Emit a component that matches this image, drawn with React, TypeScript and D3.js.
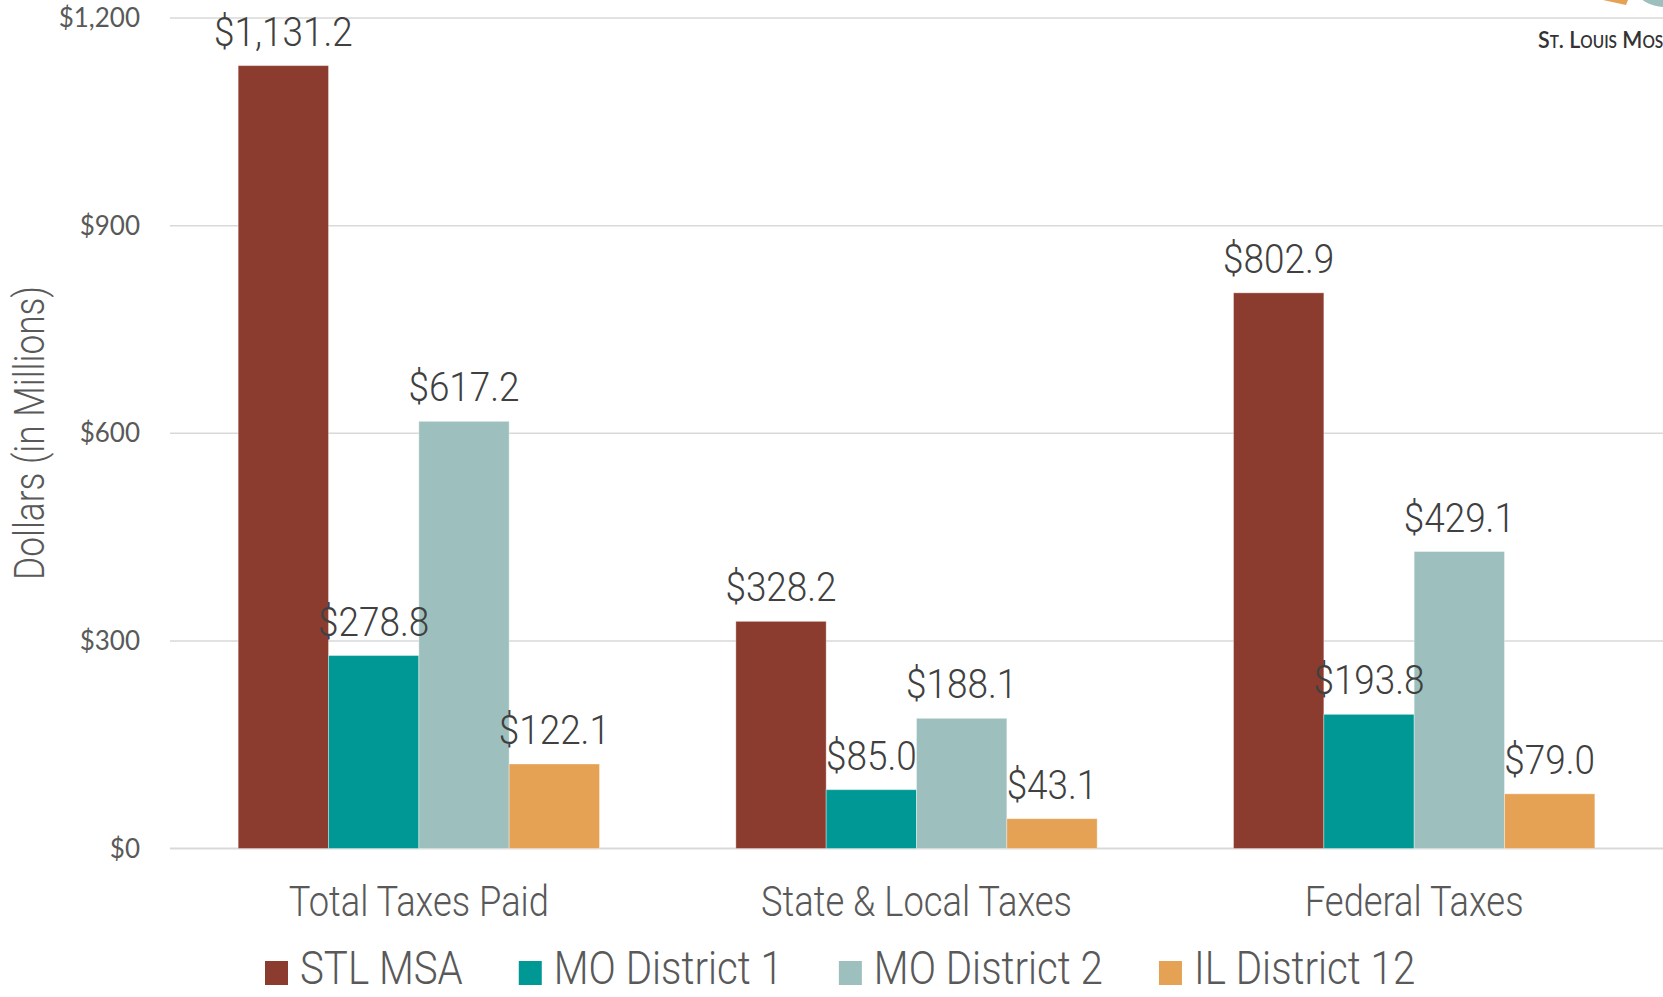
import React, { useRef, useEffect } from 'react';
import * as d3 from 'd3';

const categories = ['Total Taxes Paid', 'State & Local Taxes', 'Federal Taxes'];
const seriesNames = ['STL MSA', 'MO District 1', 'MO District 2', 'IL District 12'];
const stlMsa = [1131.2, 328.2, 802.9];
const moDistrict1 = [278.8, 85.0, 193.8];
const moDistrict2 = [617.2, 188.1, 429.1];
const ilDistrict12 = [122.1, 43.1, 79.0];
const yTicks = [0, 300, 600, 900, 1200];
const colors = ['#8B3C2E', '#009894', '#9DC0BE', '#E5A154'];

const W = 1663;
const H = 997;
// no condensed face installed, so squeeze Roboto horizontally
const narrow = 'Roboto, "Liberation Sans", sans-serif';
const SQ = 0.84;

const App = () => {
  const ref = useRef<SVGSVGElement>(null);

  useEffect(() => {
    const svg = d3.select(ref.current);
    svg.selectAll('*').remove();

    const series = [stlMsa, moDistrict1, moDistrict2, ilDistrict12];

    const x0 = d3
      .scaleBand()
      .domain(categories)
      .range([170, W])
      .paddingInner(0.274)
      .paddingOuter(0.137);

    const x1 = d3
      .scaleBand()
      .domain(seriesNames)
      .range([0, x0.bandwidth()]);

    const y = d3.scaleLinear().domain([0, 1200]).range([848.5, 18]);

    // gridlines
    svg
      .append('g')
      .selectAll('line')
      .data(yTicks)
      .join('line')
      .attr('x1', 170)
      .attr('x2', W)
      .attr('y1', (d) => y(d))
      .attr('y2', (d) => y(d))
      .attr('stroke', '#d9d9d9')
      .attr('stroke-width', (d) => (d === 0 ? 2 : 1.5));

    // tick labels
    svg
      .append('g')
      .selectAll('text')
      .data(yTicks)
      .join('text')
      .attr('x', 140)
      .attr('y', (d) => y(d))
      .attr('dy', '0.35em')
      .attr('text-anchor', 'end')
      .attr('font-family', 'Lato, sans-serif')
      .attr('font-size', 26)
      .attr('fill', '#595959')
      .text((d) => '$' + d3.format(',')(d));

    // y title
    svg
      .append('text')
      .attr('transform', `translate(44, 433) rotate(-90) scale(${SQ}, 1)`)
      .attr('text-anchor', 'middle')
      .attr('font-family', narrow)
      .attr('font-weight', 300)
      .attr('font-size', 42)
      .attr('fill', '#595959')
      .text('Dollars (in Millions)');

    // bars
    const groups = svg
      .append('g')
      .selectAll('g')
      .data(categories)
      .join('g')
      .attr('transform', (d) => `translate(${x0(d)}, 0)`);

    const cells = (c, ci) => seriesNames.map((s, si) => ({ s, si, v: series[si][ci] }));

    groups
      .selectAll('rect')
      .data(cells)
      .join('rect')
      .attr('x', (d) => x1(d.s))
      .attr('width', x1.bandwidth())
      .attr('y', (d) => y(d.v))
      .attr('height', (d) => y(0) - y(d.v))
      .attr('fill', (d) => colors[d.si])
      .attr('stroke', '#ffffff')
      .attr('stroke-opacity', 0.35)
      .attr('stroke-width', 1);

    groups
      .selectAll('text')
      .data(cells)
      .join('text')
      .attr(
        'transform',
        (d) => `translate(${x1(d.s) + x1.bandwidth() / 2}, ${y(d.v) - 20}) scale(0.9, 1)`
      )
      .attr('text-anchor', 'middle')
      .attr('font-family', narrow)
      .attr('font-weight', 300)
      .attr('font-size', 41)
      .attr('fill', '#404040')
      .text((d) => '$' + d3.format(',.1f')(d.v));

    // category labels
    svg
      .append('g')
      .selectAll('text')
      .data(categories)
      .join('text')
      .attr('transform', (d) => `translate(${x0(d) + x0.bandwidth() / 2}, 916) scale(0.865, 1)`)
      .attr('text-anchor', 'middle')
      .attr('font-family', narrow)
      .attr('font-weight', 300)
      .attr('font-size', 42)
      .attr('fill', '#595959')
      .text((d) => d);

    // legend
    const legend = svg.append('g');
    const LQ = 0.875;
    let lx = 265;
    seriesNames.forEach((name, i) => {
      legend
        .append('rect')
        .attr('x', lx)
        .attr('y', 961)
        .attr('width', 23)
        .attr('height', 24)
        .attr('fill', colors[i]);
      const t = legend
        .append('text')
        .attr('transform', `translate(${lx + 35}, 984) scale(${LQ}, 1)`)
        .attr('font-family', narrow)
        .attr('font-weight', 300)
        .attr('font-size', 46)
        .attr('fill', '#595959')
        .text(name);
      const tw = (t.node() as SVGTextElement).getComputedTextLength() * LQ;
      lx += 35 + tw + 56;
    });

    // logo corner
    const logo = svg.append('g');
    logo
      .append('path')
      .attr('d', 'M1603,0 L1628,0 L1626,5 Z')
      .attr('fill', '#E5A154');
    logo
      .append('ellipse')
      .attr('cx', 1666)
      .attr('cy', -10)
      .attr('rx', 29)
      .attr('ry', 17)
      .attr('fill', '#9DC0BE');
    const brand = logo
      .append('text')
      .attr('font-family', 'Lato, sans-serif')
      .attr('font-size', 23)
      .attr('font-weight', 600)
      .attr('font-variant', 'small-caps')
      .attr('fill', '#333333')
      .text('St. Louis Mos');
    const bw = (brand.node() as SVGTextElement).getComputedTextLength();
    const bs = Math.min(1, (W - 2 - 1538) / bw);
    brand.attr('transform', `translate(1538, 48) scale(${bs}, 1)`);
  }, []);

  return (
    <svg
      ref={ref}
      width={W}
      height={H}
      style={{ position: 'absolute', left: 0, top: 0, background: '#ffffff' }}
    />
  );
};

export default App;
